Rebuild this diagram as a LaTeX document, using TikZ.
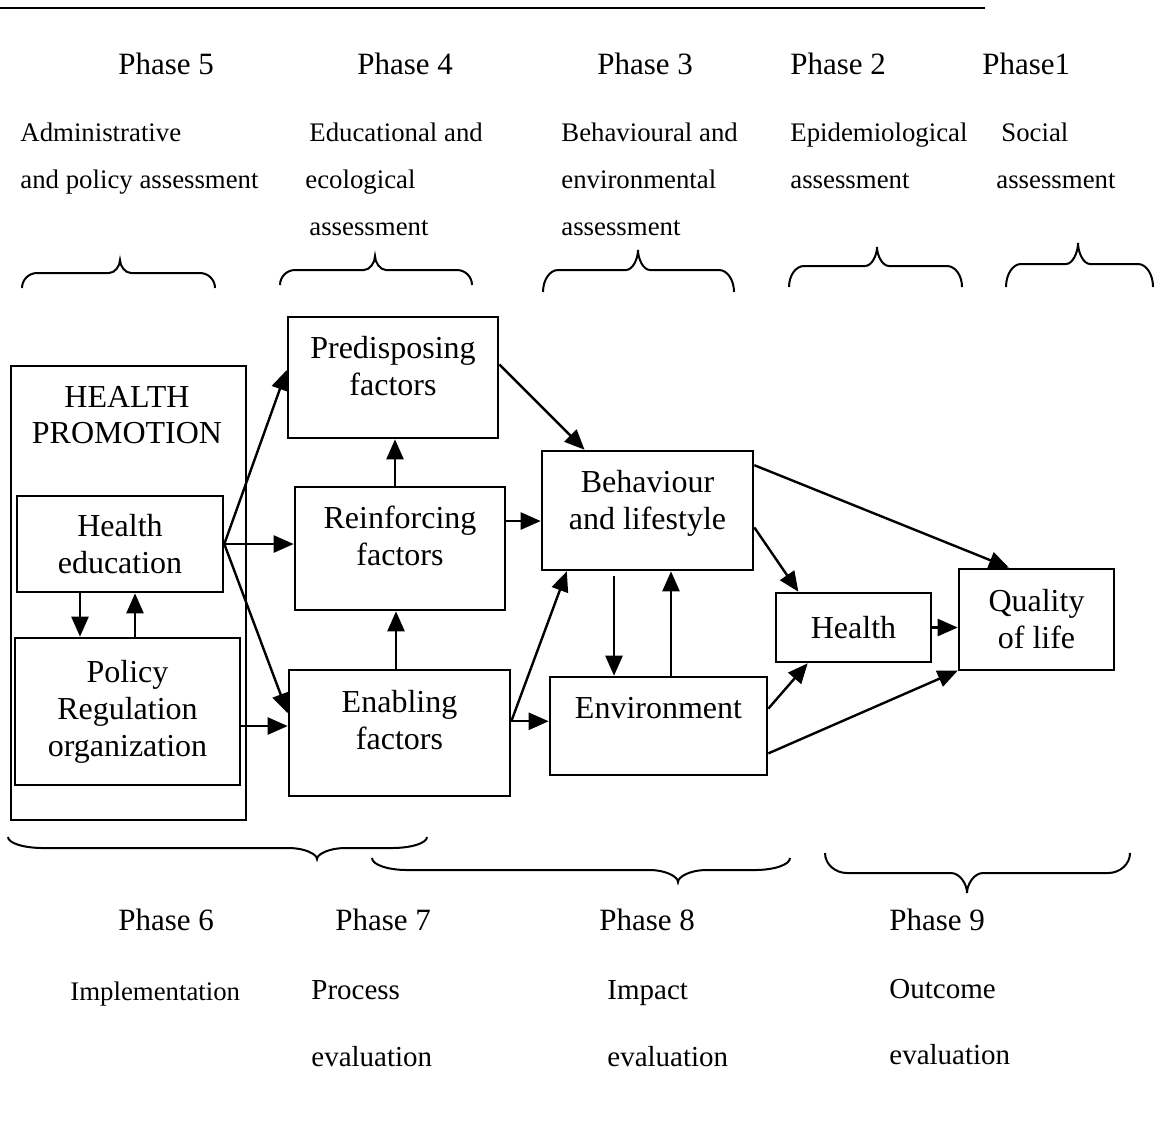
\documentclass[tikz,border=0pt]{standalone}
\usepackage{fontspec}
\setmainfont{Liberation Serif}
\usetikzlibrary{arrows.meta,calc}
\newcommand{\lift}[1]{\rule[-#1]{0pt}{#1}}

\begin{document}
\begin{tikzpicture}[x=0.5pt,y=-0.5pt,
    box/.style={draw, line width=1.3pt, align=center, inner sep=0pt, font=\fontsize{16}{18.5}\selectfont},
    title/.style={align=center, inner sep=0pt, font=\fontsize{16}{18}\selectfont},
    arr/.style={line width=1.2pt, -{Triangle[length=10pt,width=8.5pt]}},
    phase/.style={anchor=base west, inner sep=0pt, font=\fontsize{15.5}{18}\selectfont},
    note/.style={anchor=base west, inner sep=0pt, font=\fontsize{13.4}{16}\selectfont},
    evalnote/.style={note, font=\fontsize{14.5}{17}\selectfont},
    brc/.style={line width=1pt}]
    \useasboundingbox (0,0) rectangle (1159,1137);
    \draw[line width=1pt] (0,8) -- (985,8);

    % phases and what they assess
    \foreach \x/\y/\t in {118/74/Phase 5, 357/74/Phase 4, 597/74/Phase 3, 790/74/Phase 2, 982/74/Phase1,
            118/930/Phase 6, 335/930/Phase 7, 599/930/Phase 8, 889/930/Phase 9}
        \node[phase] (ph\x\y) at (\x,\y) {\t};
    \foreach \x/\y/\t [count=\i] in {20/141/Administrative, 20/188/and policy assessment,
            309/141/Educational and, 305/188/ecological, 309/235/assessment,
            561/141/Behavioural and, 561/188/environmental, 561/235/assessment,
            790/141/Epidemiological, 790/188/assessment, 1001/141/Social, 996/188/assessment,
            70/1000/Implementation}
        \node[note] (note\i) at (\x,\y) {\t};
    \foreach \x/\y/\t [count=\i] in {311/999/Process, 311/1066/evaluation,
            607/999/Impact, 607/1066/evaluation, 889/998/Outcome, 889/1064/evaluation}
        \node[evalnote] (evalnote\i) at (\x,\y) {\t};

    % braces: ends, tip, base / middle / tip heights, end curve and cusp widths
    \foreach \xa/\xb/\xt/\yb/\ym/\yt/\cw/\cs in {22/215/120/288/273/260/15/11, 280/472/375/285/270/256/15/11,
            543/734/638/292/270/250/15/12, 789/962/877/287/266/247/15/12, 1006/1153/1078/287/264/243/15/12,
            8/427/317/837/848/859/35/28, 372/790/678/858/870/882/35/28, 825/1130/967/853/873/893/22/16}
        \draw[brc] (\xa,\yb) .. controls ({\xa},{\ym+0.45*(\yb-\ym)}) and ({\xa+0.45*\cw},\ym) .. ({\xa+\cw},\ym)
            -- ({\xt-\cs},\ym) .. controls ({\xt-0.45*\cs},\ym) and ({\xt},{\ym+0.55*(\yt-\ym)}) .. (\xt,\yt)
            .. controls ({\xt},{\ym+0.55*(\yt-\ym)}) and ({\xt+0.45*\cs},\ym) .. ({\xt+\cs},\ym)
            -- ({\xb-\cw},\ym) .. controls ({\xb-0.45*\cw},\ym) and ({\xb},{\ym+0.45*(\yb-\ym)}) .. (\xb,\yb);

    % boxes
    \node[box, minimum width=117.5pt, minimum height=227pt] (promo) at (128.5,593) {};
    \node[title] (promotitle) at (127,415) {HEALTH\\PROMOTION};
    \node[box, minimum width=103pt, minimum height=48pt] (healthedu) at (120,544) {Health\\education};
    \node[box, minimum width=112.5pt, minimum height=73.5pt] (policy) at (127.5,711.5) {Policy\\Regulation\\organization};
    \node[box, minimum width=105pt, minimum height=60.5pt] (predis) at (393,377.5) {Predisposing\\factors\lift{11.5pt}};
    \node[box, minimum width=105pt, minimum height=61.5pt] (reinf) at (400,548.5) {Reinforcing\\factors\lift{12.5pt}};
    \node[box, minimum width=110.5pt, minimum height=63pt] (enab) at (399.5,733) {Enabling\\factors\lift{13pt}};
    \node[box, minimum width=105.5pt, minimum height=59.5pt] (behav) at (647.5,510.5) {Behaviour\\and lifestyle\lift{10.5pt}};
    \node[box, minimum width=108.5pt, minimum height=49pt] (envir) at (658.5,726) {Environment\lift{18pt}};
    \node[box, minimum width=77.5pt, minimum height=34.5pt] (health) at (853.5,627.5) {Health};
    \node[box, minimum width=77.5pt, minimum height=50.5pt] (qol) at (1036.5,619.5) {Quality\\of life};

    % arrows
    \draw[arr] (healthedu.east) -- (predis.176);
    \draw[arr] (healthedu.east) -- (healthedu.east -| reinf.west);
    \draw[arr] (healthedu.east) -- (enab.170);
    \draw[arr] ([yshift=-7.25pt]policy.east) -- ([yshift=-7.25pt]policy.east -| enab.west);
    \draw[arr] ([xshift=-20pt]healthedu.south) -- ([xshift=-20pt]healthedu.south |- policy.north);
    \draw[arr] ([xshift=7.5pt]healthedu.south |- policy.north) -- ([xshift=7.5pt]healthedu.south);
    \draw[arr] ([xshift=-2.5pt]reinf.north) -- ([xshift=-2.5pt]reinf.north |- predis.south);
    \draw[arr] ([xshift=-1.75pt]enab.north) -- ([xshift=-1.75pt]enab.north |- reinf.south);
    \draw[arr] (predis.7) -- (behav.136);
    \draw[arr] ([yshift=13.75pt]reinf.east) -- ([yshift=13.75pt]reinf.east -| behav.west);
    \draw[arr] (enab.6) -- (behav.217);
    \draw[arr] (enab.6) -- (enab.6 -| envir.west);
    \draw[arr, shorten <=2.5pt] ([xshift=-16.75pt]behav.south) -- ([xshift=-16.75pt]behav.south |- envir.north);
    \draw[arr] ([xshift=6.25pt]envir.north) -- ([xshift=6.25pt]envir.north |- behav.south);
    \draw[arr] (behav.23) -- (qol.118);
    \draw[arr] (behav.351) -- (health.147);
    \draw[arr] (envir.9) -- (health.218);
    \draw[arr] (envir.346) -- (qol.213);
    \draw[arr] (health.east) -- (health.east -| qol.west);
\end{tikzpicture}
\end{document}
